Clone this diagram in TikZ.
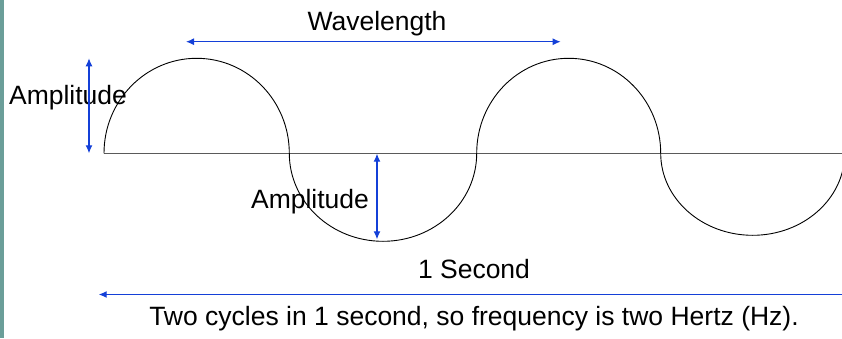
\documentclass[tikz,border=0pt]{standalone}
\usepackage{fontspec}
\setmainfont{Liberation Sans}
\usetikzlibrary{arrows.meta}
\definecolor{arrowblue}{RGB}{20,64,216}
\definecolor{barteal}{RGB}{107,158,153}
\definecolor{axisgray}{RGB}{90,90,90}
\tikzset{
  lbl/.style={anchor=base, inner sep=0pt, font=\fontsize{26.5}{30}\selectfont},
  dimarrow/.style={draw=arrowblue, line width=1.2pt, arrows={Latex[length=8pt,width=7pt]-Latex[length=8pt,width=7pt]}},
  onearrow/.style={draw=arrowblue, line width=1.2pt, arrows={Latex[length=8pt,width=7pt]-}},
  wave/.style={draw=black, line width=0.9pt},
  axis/.style={draw=axisgray, line width=1.3pt}
}
\begin{document}
\begin{tikzpicture}[x=1pt,y=1pt]
\useasboundingbox (0,0) rectangle (842,338);
% teal side bar
\fill[barteal] (0,0) rectangle (3.5,338);
% axis
\coordinate (axL) at (104,184.7);
\coordinate (axR) at (842,184.7);
\draw[axis] (axL) -- (axR);
% wave
\begin{scope}
\clip (0,0) rectangle (842,338);
\draw[wave] (104,184.7)
  arc[start angle=180, end angle=0, x radius=92.65, y radius=95]
  arc[start angle=180, end angle=360, x radius=93.7, y radius=88]
  arc[start angle=180, end angle=0, x radius=92, y radius=95]
  arc[start angle=180, end angle=360, x radius=92, y radius=82];
\end{scope}
% labels
\node[lbl] (wl) at (377,307.3) {Wavelength};
\node[lbl] (ampL) at (68,233.7) {Amplitude};
\node[lbl] (ampM) at (310,129.7) {Amplitude};
\node[lbl] (sec) at (474,59.7) {1 Second};
\node[lbl] (cap) at (474,12.3) {Two cycles in 1 second, so frequency is two Hertz (Hz).};
% arrow endpoints
\coordinate (wlA) at (186,296.3);
\coordinate (wlB) at (560.7,296.3);
\coordinate (aLtop) at (89,279.7);
\coordinate (aLbot) at (89,184.7);
\coordinate (aMtop) at (377,184.3);
\coordinate (aMbot) at (377,98.7);
\coordinate (sR) at (842,43.5);
\coordinate (sL) at (98.7,43.5);
% arrows
\draw[dimarrow] (wlA) -- (wlB);
\draw[dimarrow] (aLtop) -- (aLbot);
\draw[dimarrow] (aMtop) -- (aMbot);
\draw[onearrow] (sL) -- (sR);
\end{tikzpicture}
\end{document}
